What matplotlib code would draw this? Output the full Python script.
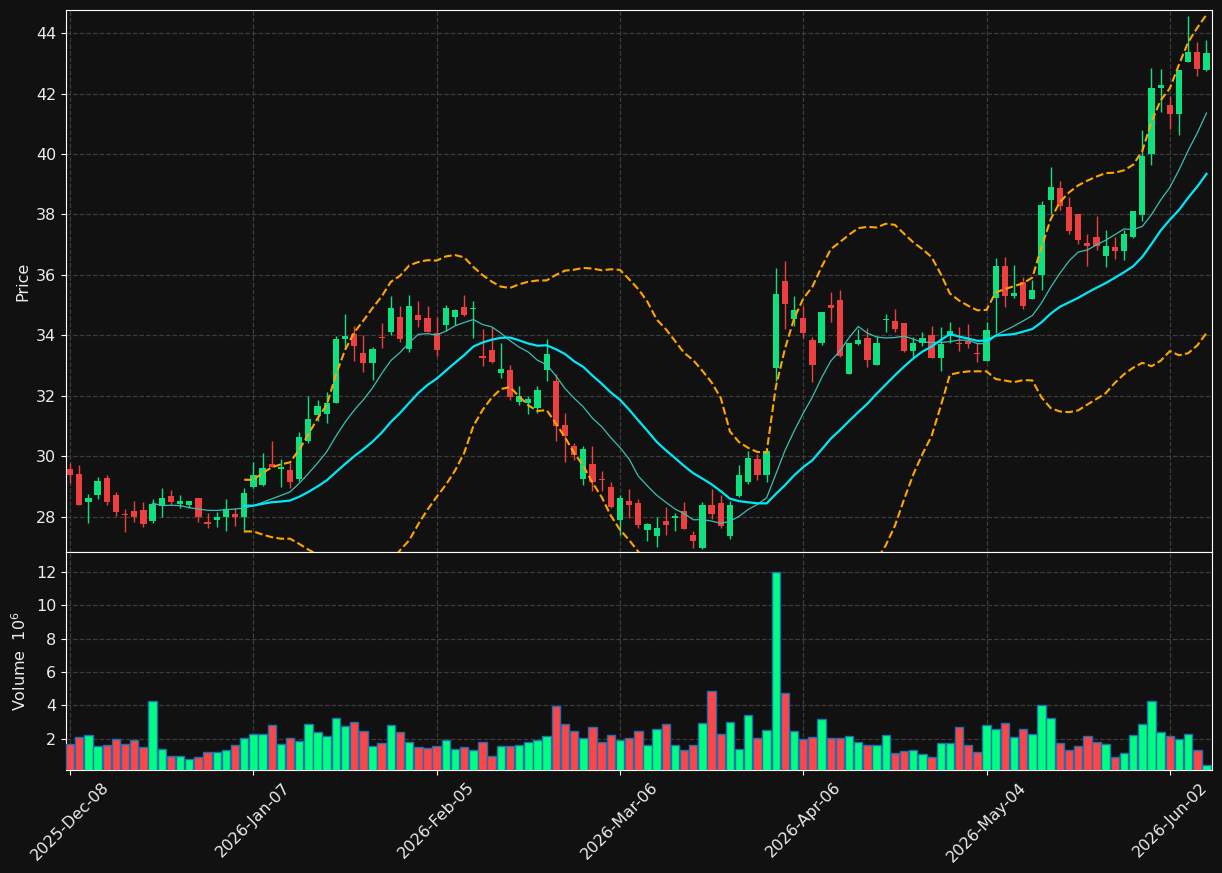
import numpy as np
import pandas as pd
import matplotlib
matplotlib.use('agg')
import matplotlib.pyplot as plt

# daily OHLC, volume in millions
opens = [29.58, 29.41, 28.49, 28.72, 29.28, 28.74, 28.11, 28.21, 28.24, 27.88,
         28.36, 28.68, 28.44, 28.38, 28.61, 27.84, 27.91, 27.99, 28.08, 27.99,
         28.99, 29.06, 29.75, 29.59, 29.55, 29.25, 30.50, 31.37, 31.41, 31.78,
         33.87, 34.06, 33.43, 33.10, 33.96, 34.13, 34.61, 33.54, 34.69, 34.59,
         34.08, 34.35, 34.60, 34.94, 34.86, 33.33, 33.52, 32.77, 32.86, 31.80,
         31.77, 31.61, 32.87, 32.50, 31.04, 30.34, 29.25, 29.75, 29.26, 28.99,
         27.89, 28.51, 28.47, 27.56, 27.38, 27.88, 27.97, 28.21, 27.41, 26.97,
         28.41, 28.47, 27.36, 28.69, 29.17, 29.91, 29.39, 32.94, 35.81, 34.56,
         34.59, 33.86, 33.75, 35.02, 35.18, 32.73, 33.71, 33.92, 33.03, 34.50,
         34.49, 34.41, 33.50, 33.75, 34.00, 33.27, 33.97, 33.75, 33.82, 33.41,
         33.17, 35.23, 36.31, 35.30, 35.76, 35.19, 35.99, 38.49, 38.86, 38.26,
         38.03, 37.07, 37.24, 36.62, 36.91, 36.79, 37.25, 37.98, 39.99, 42.17,
         41.62, 41.32, 43.03, 43.37, 42.77]
highs = [29.78, 29.71, 28.77, 29.33, 29.37, 28.81, 28.27, 28.54, 28.50, 28.58,
         28.97, 28.88, 28.73, 28.54, 28.61, 28.13, 28.17, 28.58, 28.30, 28.94,
         29.80, 30.11, 30.50, 29.93, 29.77, 30.80, 31.99, 31.88, 32.12, 33.98,
         34.72, 34.31, 34.00, 33.61, 34.41, 35.30, 34.97, 35.35, 35.14, 34.97,
         34.60, 35.02, 34.88, 35.34, 35.14, 34.21, 34.28, 33.75, 33.02, 32.33,
         32.00, 32.33, 33.89, 32.73, 31.44, 30.46, 30.34, 30.34, 29.52, 29.17,
         28.74, 28.91, 28.58, 27.80, 28.00, 28.33, 28.13, 28.50, 27.52, 28.50,
         28.91, 28.72, 28.52, 29.71, 30.19, 30.08, 30.24, 36.23, 36.45, 35.29,
         34.96, 33.94, 34.78, 35.45, 35.51, 33.75, 34.21, 34.24, 33.97, 34.71,
         34.87, 34.41, 33.94, 34.13, 34.30, 34.28, 34.44, 34.28, 34.38, 33.75,
         34.46, 36.57, 36.60, 36.33, 35.94, 35.85, 38.45, 39.57, 39.10, 38.57,
         38.03, 37.37, 37.94, 37.50, 37.26, 37.50, 38.13, 40.81, 42.84, 42.81,
         41.93, 42.78, 44.57, 43.70, 43.76]
lows = [29.13, 28.38, 27.80, 28.58, 28.39, 28.02, 27.50, 27.83, 27.67, 27.80,
        28.00, 28.40, 28.30, 28.30, 27.83, 27.62, 27.66, 27.52, 27.69, 27.49,
        28.94, 29.03, 29.64, 29.00, 28.94, 29.19, 30.46, 31.18, 31.09, 31.76,
        33.56, 33.17, 32.78, 32.53, 33.58, 34.00, 33.78, 33.45, 34.28, 34.11,
        33.33, 34.15, 34.33, 34.65, 33.91, 33.00, 33.08, 32.59, 31.86, 31.70,
        31.39, 31.45, 32.51, 30.52, 29.80, 29.88, 29.07, 28.86, 28.85, 28.29,
        27.41, 27.97, 27.63, 27.19, 27.00, 27.39, 27.52, 27.61, 26.97, 26.95,
        27.94, 27.63, 27.28, 28.67, 29.08, 29.21, 29.17, 32.51, 34.21, 34.32,
        33.91, 32.45, 33.69, 34.44, 33.30, 32.73, 33.69, 32.95, 33.03, 34.11,
        34.11, 33.45, 33.30, 33.66, 33.27, 32.83, 33.75, 33.49, 33.58, 33.12,
        33.17, 34.09, 34.95, 35.23, 34.88, 35.19, 35.50, 38.03, 38.16, 37.36,
        37.01, 36.29, 36.84, 36.26, 36.53, 36.51, 37.23, 37.78, 39.64, 41.39,
        40.83, 40.64, 43.03, 42.57, 42.75]
closes = [29.39, 28.41, 28.61, 29.18, 28.49, 28.16, 28.06, 28.01, 27.78, 28.44,
          28.64, 28.48, 28.51, 28.51, 27.99, 27.78, 27.99, 28.27, 27.99, 28.78,
          29.38, 29.61, 29.66, 29.64, 29.16, 30.64, 31.24, 31.68, 31.77, 33.89,
          33.99, 33.64, 33.10, 33.56, 33.91, 34.92, 33.89, 34.97, 34.50, 34.13,
          33.52, 34.92, 34.84, 34.69, 34.89, 33.27, 33.13, 32.90, 31.98, 31.99,
          31.90, 32.20, 33.39, 31.02, 30.69, 30.06, 30.24, 29.16, 29.22, 28.32,
          28.64, 28.41, 27.72, 27.78, 27.64, 27.72, 28.02, 27.61, 27.19, 28.41,
          28.11, 27.69, 28.41, 29.38, 29.94, 29.39, 30.18, 35.38, 35.03, 34.85,
          34.07, 33.01, 34.78, 34.90, 33.33, 33.75, 33.86, 33.20, 33.75, 34.52,
          34.21, 33.50, 33.75, 33.91, 33.27, 33.71, 34.14, 33.71, 33.71, 33.38,
          34.19, 36.29, 35.30, 35.41, 34.97, 35.49, 38.30, 38.92, 38.27, 37.47,
          37.17, 36.97, 36.97, 36.97, 36.79, 37.37, 38.11, 39.95, 42.19, 42.29,
          41.32, 42.78, 43.37, 42.81, 43.35]
volumes = [1.70, 2.12, 2.24, 1.58, 1.64, 2.00, 1.70, 1.94, 1.52, 4.27,
           1.40, 0.96, 0.96, 0.80, 0.92, 1.22, 1.22, 1.34, 1.64, 2.06,
           2.30, 2.30, 2.84, 1.70, 2.06, 1.90, 2.90, 2.42, 2.18, 3.27,
           2.78, 3.02, 2.48, 1.58, 1.78, 2.84, 2.42, 1.82, 1.52, 1.46,
           1.58, 1.94, 1.40, 1.52, 1.34, 1.82, 0.98, 1.58, 1.58, 1.64,
           1.82, 1.94, 2.18, 3.95, 2.90, 2.48, 2.06, 2.72, 1.82, 2.24,
           1.94, 2.06, 2.48, 1.64, 2.60, 2.90, 1.64, 1.34, 1.64, 2.96,
           4.87, 2.30, 3.02, 1.40, 3.45, 2.06, 2.54, 12.00, 4.77, 2.48,
           2.00, 2.12, 3.20, 2.04, 2.04, 2.16, 1.80, 1.64, 1.64, 2.24,
           1.16, 1.28, 1.34, 1.10, 0.92, 1.76, 1.76, 2.72, 1.64, 1.22,
           2.84, 2.60, 2.96, 2.12, 2.60, 2.30, 4.05, 3.27, 1.76, 1.34,
           1.58, 2.18, 1.82, 1.70, 0.92, 1.16, 2.24, 2.90, 4.29, 2.42,
           2.18, 2.00, 2.30, 1.34, 0.45]
holidays = ['2025-12-25', '2026-01-01', '2026-01-19', '2026-02-16',
            '2026-04-03', '2026-05-25']

dates = pd.bdate_range('2025-12-08', periods=len(closes), freq='C', holidays=holidays)
df = pd.DataFrame({'Open': opens, 'High': highs, 'Low': lows,
                   'Close': closes, 'Volume': volumes}, index=dates)

##### indicators
sma10 = df['Close'].rolling(10).mean()
sma20 = df['Close'].rolling(20).mean()
std20 = df['Close'].rolling(20).std()
bb_up = sma20 + 2*std20
bb_dn = sma20 - 2*std20

##### style
bg = '#111111'
fg = '#ececec'
up_c, dn_c = '#0fe07f', '#ec4040'
vup_c, vdn_c = '#00ff80', '#ff4646'
plt.rcParams['font.size'] = 11.5

fig = plt.figure(figsize=(12.22, 8.73), dpi=100, facecolor=bg)
ax = fig.add_axes([0.054, 0.3677, 0.9378, 0.6208])
axv = fig.add_axes([0.054, 0.118, 0.9378, 0.2497], sharex=ax)

x = np.arange(len(df))
is_up = (df['Close'] >= df['Open']).values
ccol = np.where(is_up, up_c, dn_c)
vcol = np.where(is_up, vup_c, vdn_c)

#candles
ax.vlines(x, df['Low'], df['High'], colors=ccol, linewidth=1.0, zorder=2)
body_lo = np.minimum(df['Open'], df['Close'])
body_h = np.maximum((df['Close'] - df['Open']).abs(), 0.04)
ax.bar(x, body_h, bottom=body_lo, width=0.68, color=ccol, linewidth=0, zorder=3)

#moving averages and bands
ax.plot(x, sma10, color='#3cbfb2', linewidth=0.9, zorder=4)
ax.plot(x, sma20, color='#00e8f8', linewidth=1.6, zorder=4)
ax.plot(x, bb_up, color='#ffa500', linewidth=1.5, ls='--', zorder=4)
ax.plot(x, bb_dn, color='#ffa500', linewidth=1.5, ls='--', zorder=4)

#volume
axv.bar(x, df['Volume'], width=0.92, color=vcol, edgecolor='#1f6fb4', linewidth=1.0, zorder=3)

for a in (ax, axv):
    a.set_facecolor(bg)
    a.grid(True, ls='--', color='#3c3c3c', linewidth=0.9, zorder=0)
    a.set_axisbelow(True)
    for s in a.spines.values():
        s.set_color('white')
    a.tick_params(colors='white', labelcolor=fg, labelsize=11.5)

ax.set_xlim(-0.45, len(df) - 0.4)
ax.set_ylim(26.84, 44.76)
ax.set_yticks(np.arange(28, 45, 2))
ax.set_ylabel('Price', color=fg)
plt.setp(ax.get_xticklabels(), visible=False)

axv.set_ylim(0.3*df['Volume'].min(), 1.1*df['Volume'].max())
axv.set_yticks(np.arange(2, 13, 2))
axv.set_ylabel('Volume  $10^{6}$', color=fg)

ticks = np.arange(0, len(df), 20)
axv.set_xticks(ticks)
axv.set_xticklabels([dates[t].strftime('%Y-%b-%d') for t in ticks], rotation=45)

ax.yaxis.set_label_coords(-0.031, 0.5)
axv.yaxis.set_label_coords(-0.032, 0.5)

plt.savefig('out.png', dpi=100, facecolor=bg)
